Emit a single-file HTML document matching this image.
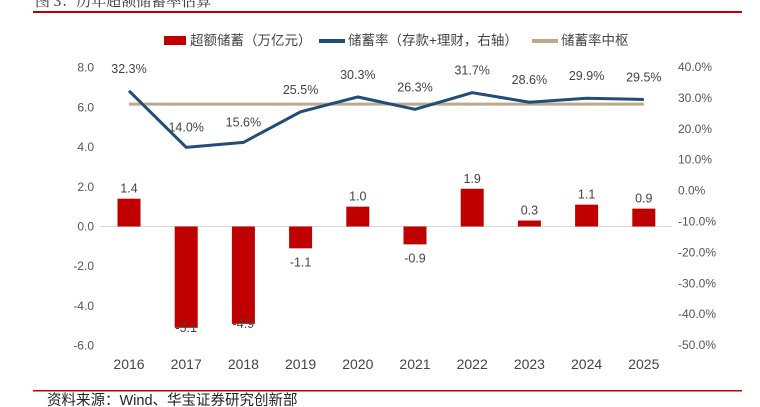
<!DOCTYPE html>
<html><head><meta charset="utf-8"><style>
body{margin:0;background:#fff;}
svg{display:block;font-family:"Liberation Sans","Noto Sans CJK SC",sans-serif;}
</style></head><body>
<svg id="chart" width="760" height="407">
<text x="35" y="6" font-size="15" fill="#333" font-family="Liberation Serif,Noto Serif CJK SC,serif">图 3：历年超额储蓄率估算</text>
<rect x="33" y="11" width="709" height="2" fill="#c00000"/>
<g font-size="13.5" fill="#444">
<rect x="164" y="36" width="22" height="9" fill="#c00000"/>
<text x="190" y="45">超额储蓄（万亿元）</text>
<rect x="319" y="39" width="26" height="4" fill="#1f4e79"/>
<text x="348" y="45">储蓄率（存款+理财，右轴）</text>
<rect x="532" y="39" width="26" height="4" fill="#bfa98a"/>
<text x="561" y="45">储蓄率中枢</text>
</g>
<g id="axes"></g>
<g id="marks"></g>
<rect x="33" y="390" width="709" height="1.5" fill="#c00000"/>
<text x="47" y="405" font-size="14.5" fill="#222">资料来源：Wind、华宝证券研究创新部</text>
</svg>
<script>
const years=["2016","2017","2018","2019","2020","2021","2022","2023","2024","2025"];
const savings=[1.4,-5.1,-4.9,-1.1,1.0,-0.9,1.9,0.3,1.1,0.9];
const rate=[32.3,14.0,15.6,25.5,30.3,26.3,31.7,28.6,29.9,29.5];
const median=28.0;
const leftTicks=[8,6,4,2,0,-2,-4,-6];
const rightTicks=[40,30,20,10,0,-10,-20,-30,-40,-50];
const NS="http://www.w3.org/2000/svg";
const yL=v=>226.5-v*19.86;
const yR=v=>190.6-v*3.09;
const x=i=>129+i*57.2;
const axes=document.getElementById('axes'),marks=document.getElementById('marks');
function mk(tag,attrs,parent,txt){const e=document.createElementNS(NS,tag);for(const k in attrs)e.setAttribute(k,attrs[k]);if(txt!==undefined)e.textContent=txt;parent.appendChild(e);return e;}
leftTicks.forEach(v=>{const t=mk('text',{x:94,y:yL(v)+4,'text-anchor':'end','font-size':12,fill:'#555'},axes,v.toFixed(1));

});
rightTicks.forEach(v=>{const t=mk('text',{x:678,y:yR(v)+4,'font-size':12,fill:'#555'},axes,v.toFixed(1)+'%');

});
years.forEach((y,i)=>{const t=mk('text',{x:x(i),y:369,'text-anchor':'middle','font-size':14,fill:'#444'},axes,y);

});
const zl=mk('line',{x1:100,x2:672,y1:yL(0),y2:yL(0),stroke:'#d9d9d9','stroke-width':1},axes);


savings.forEach((v,i)=>{const y0=yL(0),y1=yL(v);
const r=mk('rect',{x:x(i)-11.5,y:Math.min(y0,y1),width:23,height:Math.abs(y1-y0),fill:'#c00000'},marks);


const ly=v>=0?y1-6:y1+(v<-2?4:18);
const t=mk('text',{x:x(i),y:ly,'text-anchor':'middle','font-size':12.5,fill:'#444'},marks,v.toFixed(1));

});
const ml=mk('line',{x1:x(0),x2:x(9),y1:yR(median),y2:yR(median),stroke:'#bfa98a','stroke-width':3},marks);


const pl=mk('polyline',{points:rate.map((v,i)=>x(i)+','+yR(v)).join(' '),fill:'none',stroke:'#1f4e79','stroke-width':3},marks);


rate.forEach((v,i)=>{const above=!(i===1||i===2);
const t=mk('text',{x:x(i),y:above?yR(v)-18:yR(v)-16,'text-anchor':'middle','font-size':12.5,fill:'#444'},marks,v.toFixed(1)+'%');

});
</script>
</body></html>
